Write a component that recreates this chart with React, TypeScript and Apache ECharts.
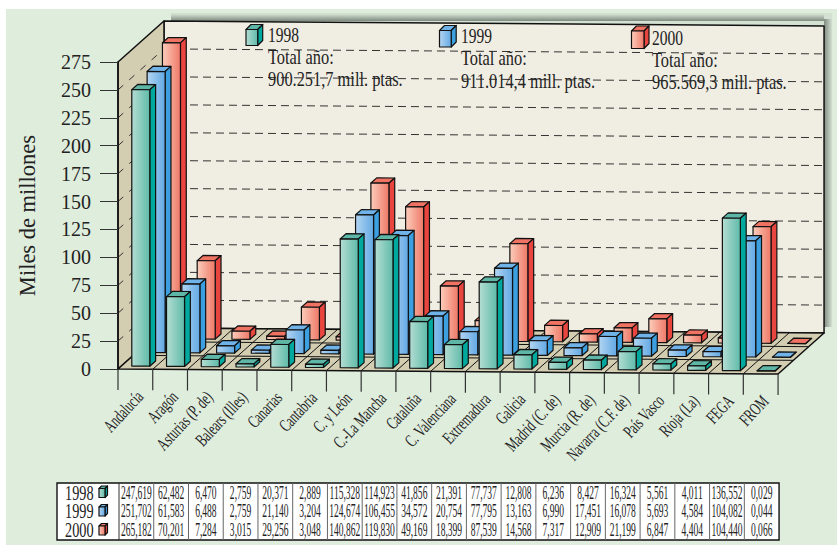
import React, { useEffect, useRef } from "react";
import * as echarts from "echarts";

const categories = [
  "Andalucía", "Aragón", "Asturias (P. de)", "Balears (Illes)", "Canarias", "Cantabria",
  "C. y León", "C.-La Mancha", "Cataluña", "C. Valenciana", "Extremadura", "Galicia",
  "Madrid (C. de)", "Murcia (R. de)", "Navarra (C.F. de)", "País Vasco", "Rioja (La)", "FEGA", "FROM",
];
const values1998 = [247.619, 62.482, 6.47, 2.759, 20.371, 2.889, 115.328, 114.923, 41.856, 21.391, 77.737, 12.808, 6.236, 8.427, 16.324, 5.561, 4.011, 136.552, 0.029];
const values1999 = [251.702, 61.583, 6.488, 2.759, 21.14, 3.204, 124.674, 106.455, 34.572, 20.754, 77.795, 13.163, 6.99, 17.451, 16.078, 5.693, 4.584, 104.082, 0.044];
const values2000 = [265.182, 70.201, 7.284, 3.015, 29.256, 3.048, 140.862, 119.83, 49.169, 18.399, 87.539, 14.568, 7.317, 12.909, 21.199, 6.847, 4.404, 104.44, 0.066];
const years = ["1998", "1999", "2000"];
const totals = ["900.251,7 mill. ptas.", "911.014,4 mill. ptas.", "965.569,3 mill. ptas."];
const gridValues = [25, 50, 75, 100, 125, 150, 175, 200, 225, 250];

const palette = [
  { light: "#B4DDD3", mid: "#5FBBA9", top: "#5DB6A6", side: "#00A99D" },
  { light: "#B3D5F2", mid: "#62A9E4", top: "#6FB3E8", side: "#3B9FE0" },
  { light: "#FCCDBB", mid: "#EF7867", top: "#EF7263", side: "#E8453F" },
];
const allValues = [values1998, values1999, values2000];

const DX = 15.33, DY = -13.67, SLOPE = 5 / 19;
const SERIF = '"Liberation Serif", serif';
const INK = "#111";

const mk = (api: any) => {
  const left = api.coord([0, 0])[0];
  const cw = api.coord([1, 0])[0] - left;
  const x0 = left - cw / 2;
  return {
    cw, x0,
    p: (u: number, d: number, v: number) => [
      x0 + cw * u + DX * d,
      api.coord([0, v])[1] + SLOPE * u + DY * d,
    ],
  };
};
const poly = (points: number[][], fill: any, stroke: any = INK, lw = 1.2) => ({
  type: "polygon", shape: { points }, style: { fill, stroke, lineWidth: lw, lineJoin: "round" },
});
const seg = (a: number[], b: number[], stroke = INK, lw = 1, dash?: number[]) => ({
  type: "line",
  shape: { x1: a[0], y1: a[1], x2: b[0], y2: b[1] },
  style: { stroke, lineWidth: lw, lineDash: dash, fill: "none" },
});
const grad = (x2: number, y2: number, a: string, b: string) => ({
  type: "linear", x: 0, y: 0, x2, y2, global: false,
  colorStops: [{ offset: 0, color: a }, { offset: 1, color: b }],
});

const renderFrame = (_: any, api: any) => {
  const { p } = mk(api);
  const n = categories.length;
  const kids: any[] = [];
  const bl = p(0, 3, 275);
  const br = p(n, 3, 275);
  const brf = p(n, 3, 0);
  // soft shadow behind the back wall
  kids.push({ type: "rect", shape: { x: bl[0] + 7, y: 13, width: br[0] + 8 - bl[0] - 7, height: brf[1] - 6 - 13 }, style: { fill: "#D3E1D2" } });
  kids.push({ type: "rect", shape: { x: br[0], y: br[1] - 7, width: 8, height: brf[1] - 6 - br[1] + 7 }, style: { fill: grad(1, 0, "#7F8A80", "#D3E1D2") } });
  kids.push({ type: "rect", shape: { x: bl[0] + 7, y: bl[1] - 7, width: br[0] - bl[0] - 7, height: 7 }, style: { fill: grad(0, 1, "#D3E1D2", "#7F8A80") } });
  kids.push(poly([p(0, 3, 0), p(n, 3, 0), p(n, 3, 275), p(0, 3, 275)], "#F0EDE2", INK, 1.5));
  kids.push(poly([p(0, 0, 0), p(0, 3, 0), p(0, 3, 275), p(0, 0, 275)], "#D3CDB1", INK, 1.5));
  kids.push(poly([p(0, 0, 0), p(n, 0, 0), p(n, 3, 0), p(0, 3, 0)], "#D3CDB1", INK, 1.5));
  gridValues.forEach((v) => {
    kids.push(seg(p(0, 3, v), p(n, 3, v), "#333", 1, [8, 5]));
    kids.push(seg(p(0, 0, v), p(0, 3, v), "#333", 1, [7, 8]));
  });
  for (let i = 1; i < n; i++) kids.push(seg(p(i, 0, 0), p(i, 3, 0)));
  for (let d = 1; d < 3; d++) kids.push(seg(p(0, d, 0), p(n, d, 0)));
  for (let i = 0; i <= n; i++) {
    const a = p(i, 0, 0);
    kids.push(seg(a, [a[0], a[1] + 21], "#333", 1.2));
  }
  return { type: "group", children: kids };
};

const renderBars = (row: number) => (_: any, api: any) => {
  const { p } = mk(api);
  const i = api.value(0), v = api.value(1);
  const c = palette[row];
  const u0 = i + 0.3, u1 = u0 + 0.518, d0 = row + 0.22, d1 = row + 0.6;
  return {
    type: "group",
    children: [
      poly([p(u0, d0, v), p(u1, d0, v), p(u1, d1, v), p(u0, d1, v)], c.top),
      poly([p(u1, d0, 0), p(u1, d1, 0), p(u1, d1, v), p(u1, d0, v)], c.side),
      poly([p(u0, d0, 0), p(u1, d0, 0), p(u1, d0, v), p(u0, d0, v)], grad(1, 0, c.light, c.mid)),
    ],
  };
};

const renderCatLabel = (_: any, api: any) => {
  const { p } = mk(api);
  const i = api.value(0);
  const a = p(i + 0.62, 0, 0);
  return {
    type: "text",
    x: a[0], y: a[1] + 24,
    rotation: (47 * Math.PI) / 180,
    scaleX: 0.66,
    style: { text: categories[i], font: `18px ${SERIF}`, fill: "#222", align: "right", verticalAlign: "middle" },
  };
};

const TOP = 483, BOTTOM = 540, ROWY = [492.5, 511, 530];
const cube = (x: number, y: number, w: number, h: number, s: number, t: number, c: any, z?: number) => {
  const extra = z === undefined ? {} : { z };
  return [
    { ...poly([[x, y], [x + w, y], [x + w + s, y - t], [x + s, y - t]], c.top), ...extra },
    { ...poly([[x + w, y], [x + w + s, y - t], [x + w + s, y + h - t], [x + w, y + h]], c.side), ...extra },
    { ...poly([[x, y], [x + w, y], [x + w, y + h], [x, y + h]], grad(1, 0, c.light, c.mid)), ...extra },
  ];
};
const renderTable = (_: any, api: any) => {
  const { cw, x0 } = mk(api);
  const n = categories.length;
  const kids: any[] = [];
  const right = x0 + cw * n + 1;
  kids.push({ type: "rect", shape: { x: 57, y: TOP, width: right - 57, height: BOTTOM - TOP }, style: { fill: "#fff", stroke: "#111", lineWidth: 1.4 } });
  for (let i = 0; i < n; i++) {
    const x = x0 + cw * i + 1;
    kids.push(seg([x, TOP], [x, BOTTOM], i === 0 ? "#333" : "#666", 1));
    allValues.forEach((arr, r) => {
      kids.push({
        type: "text", x: x + cw / 2, y: ROWY[r], scaleX: 0.53,
        style: { text: arr[i].toFixed(3).replace(".", ","), font: `18px ${SERIF}`, fill: "#222", align: "center", verticalAlign: "middle" },
      });
    });
  }
  years.forEach((y, r) => {
    kids.push({
      type: "text", x: 65, y: ROWY[r], scaleX: 0.68,
      style: { text: y, font: `21px ${SERIF}`, fill: "#222", align: "left", verticalAlign: "middle" },
    });
    kids.push(...cube(99, ROWY[r] - 4, 6, 9, 2.5, 2.5, palette[r]));
  });
  return { type: "group", children: kids };
};

const legendSpots = [
  { cx: 246, cy: 29.5, w: 11.7, h: 16, tx: 268, ys: [35, 56.5, 79] },
  { cx: 439.5, cy: 30.5, w: 11.7, h: 16.5, tx: 461, ys: [36.5, 57.5, 80.5] },
  { cx: 631.5, cy: 31, w: 12.5, h: 17.5, tx: 652, ys: [38.5, 60, 81.5] },
];
const legendGraphics = () => {
  const out: any[] = [];
  legendSpots.forEach((s, r) => {
    out.push(...cube(s.cx, s.cy, s.w, s.h, 5, 5, palette[r], 100));
    const lines = [years[r], "Total año:", totals[r]];
    lines.forEach((t, k) => {
      out.push({
        type: "text", x: s.tx, y: s.ys[k], scaleX: k === 0 ? 0.74 : 0.78, z: 100,
        style: { text: t, font: `21px ${SERIF}`, fill: "#222", align: "left", verticalAlign: "middle" },
      });
    });
  });
  return out;
};

const customBase = { type: "custom", coordinateSystem: "cartesian2d", clip: false, silent: true, encode: { x: 0, y: 1 } };

export default function App() {
  const ref = useRef<HTMLDivElement>(null);
  useEffect(() => {
    document.body.style.margin = "0";
    document.body.style.background = "#fff";
    const chart = echarts.init(ref.current!, null, { renderer: "svg" });
    chart.setOption({
      animation: false,
      backgroundColor: "transparent",
      grid: { left: 118, top: 62, width: 660.06, height: 307 },
      xAxis: {
        type: "category", data: categories,
        axisLine: { show: false }, axisTick: { show: false }, axisLabel: { show: false }, splitLine: { show: false },
      },
      yAxis: {
        type: "value", min: 0, max: 275, interval: 25, z: 5,
        name: "Miles de millones", nameLocation: "middle", nameRotate: 90, nameGap: 79,
        nameTextStyle: { fontFamily: SERIF, fontSize: 22.5, color: "#222" },
        axisLine: { show: true, lineStyle: { color: INK, width: 1.5 } },
        axisTick: { show: true, length: 18, lineStyle: { color: "#333", width: 1 } },
        axisLabel: { fontFamily: SERIF, fontSize: 20, color: "#222", margin: 27 },
        splitLine: { show: false },
      },
      graphic: { elements: legendGraphics() },
      series: [
        { ...customBase, name: "frame", z: 1, data: [[0, 0]], renderItem: renderFrame },
        { ...customBase, name: years[2], z: 2, data: values2000.map((v, i) => [i, v]), renderItem: renderBars(2) },
        { ...customBase, name: years[1], z: 3, data: values1999.map((v, i) => [i, v]), renderItem: renderBars(1) },
        { ...customBase, name: years[0], z: 4, data: values1998.map((v, i) => [i, v]), renderItem: renderBars(0) },
        { ...customBase, name: "categories", z: 5, data: categories.map((_, i) => [i, 0]), renderItem: renderCatLabel },
        { ...customBase, name: "table", z: 5, data: [[0, 0]], renderItem: renderTable },
      ],
    });
    return () => chart.dispose();
  }, []);
  return (
    <div style={{ position: "absolute", left: 0, top: 0, width: 837, height: 545, background: "#fff", overflow: "hidden" }}>
      <div style={{ position: "absolute", left: 6, top: 9, right: 0, bottom: 0, background: "#DFEDDD" }} />
      <div ref={ref} style={{ position: "absolute", left: 0, top: 0, width: 837, height: 545 }} />
    </div>
  );
}
